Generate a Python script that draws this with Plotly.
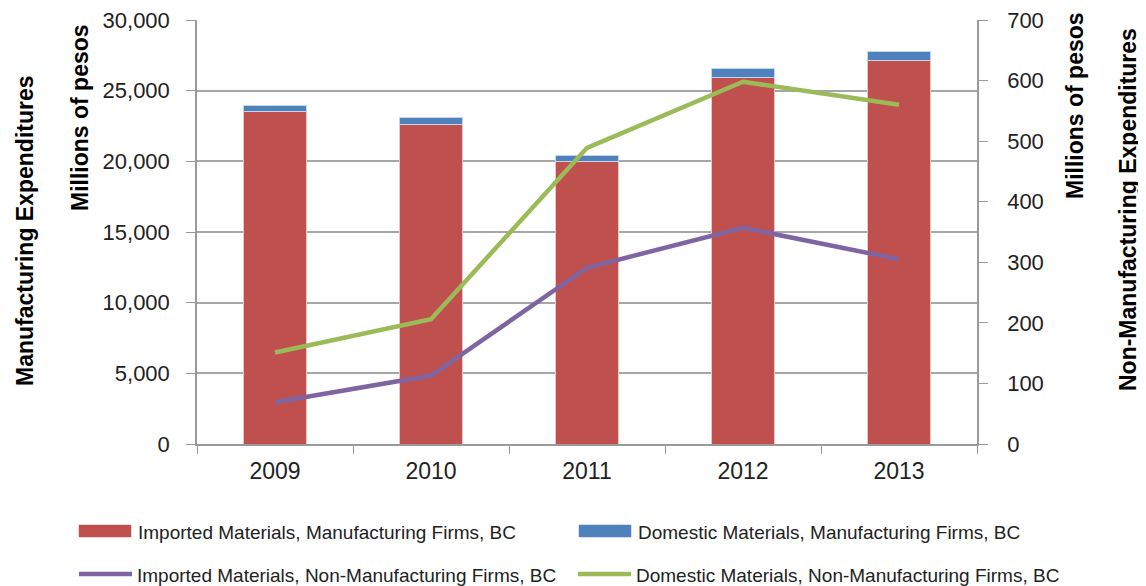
import plotly.graph_objects as go

years = ["2009", "2010", "2011", "2012", "2013"]
imported_mfg = [23540, 22640, 20000, 25950, 27120]
domestic_mfg = [380, 440, 440, 650, 630]
imported_nonmfg = [69, 113, 291, 357, 305]
domestic_nonmfg = [151, 206, 489, 598, 560]

names = ["Imported Materials, Manufacturing Firms, BC",
         "Domestic Materials, Manufacturing Firms, BC",
         "Imported Materials, Non-Manufacturing Firms, BC",
         "Domestic Materials, Non-Manufacturing Firms, BC"]

RED = "#C0504D"
BLUE = "#4F81BD"
PURPLE = "#8064A2"
GREEN = "#9BBB59"
FONT = "Liberation Sans"
W, H = 1146, 586
OFF = 8  # page body margin offset
# target plot area in screen pixels: x 197..977, y 20..444
ML = 197 - OFF
MT = 20 - OFF
MR = W - (977 - OFF)
MB = H - (444 - OFF)
PW, PH = W - ML - MR, H - MT - MB


def px(x):
    return (x - OFF - ML) / PW


def py(y):
    return (H - MB - (y - OFF)) / PH


fig = go.Figure()
fig.add_trace(go.Bar(x=years, y=imported_mfg, name=names[0],
                     marker=dict(color=RED, line=dict(color="#E6C6C6", width=1)), width=0.4))
fig.add_trace(go.Bar(x=years, y=domestic_mfg, name=names[1],
                     marker=dict(color=BLUE, line=dict(color="#C6D6EA", width=1)), width=0.4))
fig.add_trace(go.Scatter(x=years, y=imported_nonmfg, name=names[2],
                         mode="lines", line=dict(color=PURPLE, width=4.5), yaxis="y2"))
fig.add_trace(go.Scatter(x=years, y=domestic_nonmfg, name=names[3],
                         mode="lines", line=dict(color=GREEN, width=4.5), yaxis="y2"))

tickfont = dict(size=22, family=FONT, color="#222222")
fig.update_layout(
    width=W, height=H,
    barmode="stack",
    plot_bgcolor="white", paper_bgcolor="white",
    margin=dict(l=ML, r=MR, t=MT, b=MB, autoexpand=False),
    font=dict(family=FONT, color="#222222"),
    showlegend=False,
    xaxis=dict(type="category", showline=True, linecolor="#9A9A9A", linewidth=1.5,
               ticks="outside", tickson="boundaries", ticklen=8, tickcolor="#9A9A9A",
               tickfont=dict(size=23, family=FONT, color="#222222"), showgrid=False,
               ticklabelstandoff=6, ticklabeloverflow="allow"),
    yaxis=dict(range=[0, 30000], tickvals=[0, 5000, 10000, 15000, 20000, 25000, 30000],
               tickformat=",d", showgrid=True, gridcolor="#A6A6A6", gridwidth=1.5,
               showline=True, linecolor="#9A9A9A", linewidth=1.5,
               ticks="outside", ticklen=9, tickcolor="#9A9A9A",
               tickfont=tickfont, zeroline=False, ticklabelstandoff=12,
               ticklabeloverflow="allow"),
    yaxis2=dict(range=[0, 700], tickvals=[0, 100, 200, 300, 400, 500, 600, 700],
                overlaying="y", side="right", showgrid=False,
                showline=True, linecolor="#9A9A9A", linewidth=1.5,
                ticks="outside", ticklen=9, tickcolor="#9A9A9A",
                tickfont=tickfont, zeroline=False, ticklabelstandoff=15,
                ticklabeloverflow="allow"),
)

title_font = dict(size=23, family=FONT, color="black")
fig.add_annotation(text="<b>Manufacturing Expenditures</b>", textangle=-90, xref="paper", yref="paper",
                   x=px(25), y=py(231), xanchor="center", yanchor="middle", showarrow=False,
                   font=title_font)
fig.add_annotation(text="<b>Millions of pesos</b>", textangle=-90, xref="paper", yref="paper",
                   x=px(80), y=py(118), xanchor="center", yanchor="middle", showarrow=False,
                   font=title_font)
fig.add_annotation(text="<b>Millions of pesos</b>", textangle=-90, xref="paper", yref="paper",
                   x=px(1075), y=py(106), xanchor="center", yanchor="middle", showarrow=False,
                   font=title_font)
fig.add_annotation(text="<b>Non-Manufacturing Expenditures</b>", textangle=-90, xref="paper", yref="paper",
                   x=px(1128), y=py(210), xanchor="center", yanchor="middle", showarrow=False,
                   font=title_font)

# legend (drawn manually to match the two-column layout)
legend_items = [
    (names[0], RED, "bar", 79, 531),
    (names[1], BLUE, "bar", 579, 531),
    (names[2], PURPLE, "line", 78, 574),
    (names[3], GREEN, "line", 577, 574),
]
for name, color, kind, x0, yc in legend_items:
    if kind == "bar":
        fig.add_shape(type="rect", xref="paper", yref="paper",
                      x0=px(x0), x1=px(x0 + 52), y0=py(yc - 6), y1=py(yc + 6),
                      fillcolor=color, line=dict(color=color, width=0.5))
    else:
        fig.add_shape(type="line", xref="paper", yref="paper",
                      x0=px(x0 + 1), x1=px(x0 + 54), y0=py(yc), y1=py(yc),
                      line=dict(color=color, width=4.5))
    fig.add_annotation(text=name, xref="paper", yref="paper", x=px(x0 + 57), y=py(yc + 1),
                       xanchor="left", yanchor="middle", showarrow=False,
                       font=dict(size=19, family=FONT, color="#222222"))

fig.write_html("out.html")
